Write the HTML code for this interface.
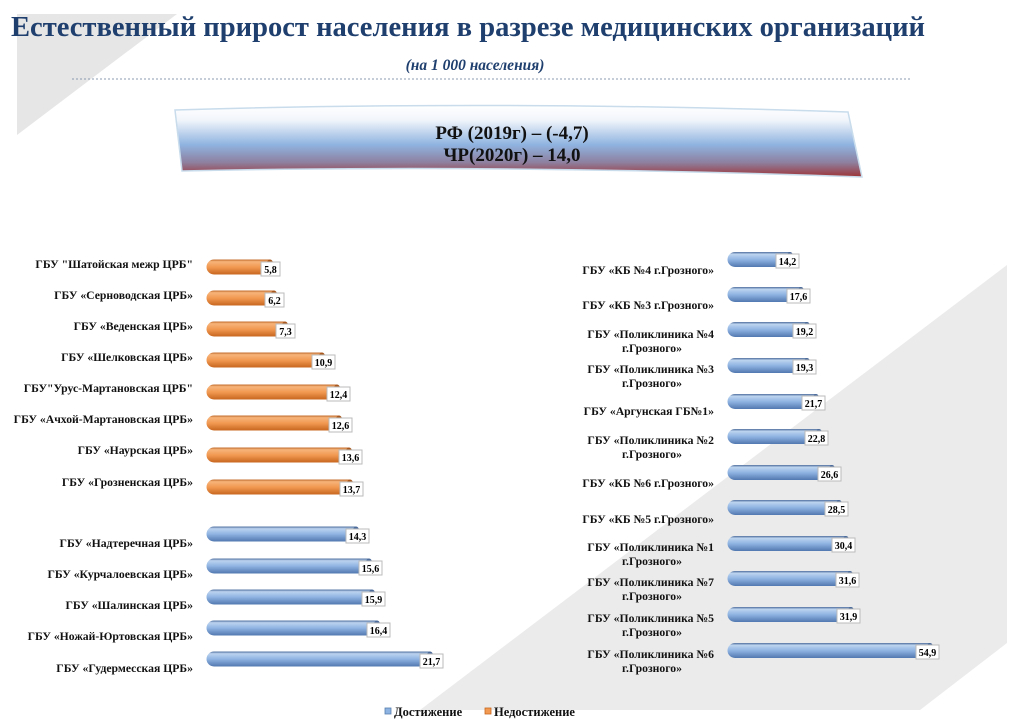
<!DOCTYPE html>
<html><head><meta charset="utf-8"><style>
html,body{margin:0;padding:0;background:#fff;}
svg{display:block;font-family:"Liberation Serif","DejaVu Serif",serif;font-weight:bold;}
</style></head><body>
<svg width="1024" height="724" viewBox="0 0 1024 724" xmlns="http://www.w3.org/2000/svg">
<defs>
<linearGradient id="ban" x1="0" y1="0" x2="0" y2="1">
<stop offset="0" stop-color="#ffffff"/><stop offset="0.2" stop-color="#f2f6fb"/><stop offset="0.55" stop-color="#8fb3e0"/><stop offset="0.8" stop-color="#8e7f9e"/><stop offset="1" stop-color="#9e3436"/></linearGradient>
<linearGradient id="og" x1="0" y1="0" x2="0" y2="1">
<stop offset="0" stop-color="#c06a2a"/><stop offset="0.15" stop-color="#f7b47a"/><stop offset="0.5" stop-color="#f29a52"/><stop offset="1" stop-color="#c8661f"/></linearGradient>
<linearGradient id="bg" x1="0" y1="0" x2="0" y2="1">
<stop offset="0" stop-color="#4d6d9c"/><stop offset="0.15" stop-color="#bcd3ef"/><stop offset="0.5" stop-color="#90b4e2"/><stop offset="1" stop-color="#5178b0"/></linearGradient>
</defs>
<polygon points="17,14 177,14 17,135" fill="#e6e6e6"/>
<polygon points="420,710 1007,265 1007,643 920,710" fill="#ebebeb"/>
<text x="11" y="36" font-size="28.5" fill="#1f3f6e" textLength="914" lengthAdjust="spacingAndGlyphs">Естественный прирост населения в разрезе медицинских организаций</text>
<text x="475" y="70" font-size="15.5" font-style="italic" fill="#1f3f6e" text-anchor="middle">(на 1 000 населения)</text>
<line x1="72" y1="79" x2="910" y2="79" stroke="#8a9bb0" stroke-width="1" stroke-dasharray="2,2"/>
<path d="M175,110 Q500,100 848,112 L862,177 Q500,164 182,171 Z" fill="url(#ban)" stroke="#c8dcec" stroke-width="1.5"/>
<text x="512" y="139" font-size="19" text-anchor="middle" fill="#111">РФ (2019г) – (-4,7)</text>
<text x="512" y="161" font-size="19" text-anchor="middle" fill="#111">ЧР(2020г) – 14,0</text>

<g font-size="11.7" fill="#111" text-anchor="end">
<text x="193" y="268">ГБУ "Шатойская межр ЦРБ"</text>
<text x="193" y="299">ГБУ «Серноводская ЦРБ»</text>
<text x="193" y="330">ГБУ «Веденская ЦРБ»</text>
<text x="193" y="361">ГБУ «Шелковская ЦРБ»</text>
<text x="193" y="392">ГБУ"Урус-Мартановская ЦРБ"</text>
<text x="193" y="423">ГБУ «Ачхой-Мартановская ЦРБ»</text>
<text x="193" y="454">ГБУ «Наурская ЦРБ»</text>
<text x="193" y="486">ГБУ «Грозненская ЦРБ»</text>
<text x="193" y="547">ГБУ «Надтеречная ЦРБ»</text>
<text x="193" y="578">ГБУ «Курчалоевская ЦРБ»</text>
<text x="193" y="609">ГБУ «Шалинская ЦРБ»</text>
<text x="193" y="640">ГБУ «Ножай-Юртовская ЦРБ»</text>
<text x="193" y="672">ГБУ «Гудермесская ЦРБ»</text>
</g>

<g font-size="11.7" fill="#111" text-anchor="end">
<text x="714" y="274">ГБУ «КБ №4 г.Грозного»</text>
<text x="714" y="309">ГБУ «КБ №3 г.Грозного»</text>
<text x="714" y="338">ГБУ «Поликлиника №4</text>
<text x="714" y="373">ГБУ «Поликлиника №3</text>
<text x="714" y="415">ГБУ «Аргунская ГБ№1»</text>
<text x="714" y="444">ГБУ «Поликлиника №2</text>
<text x="714" y="487">ГБУ «КБ №6 г.Грозного»</text>
<text x="714" y="523">ГБУ «КБ №5 г.Грозного»</text>
<text x="714" y="551">ГБУ «Поликлиника №1</text>
<text x="714" y="586">ГБУ «Поликлиника №7</text>
<text x="714" y="622">ГБУ «Поликлиника №5</text>
<text x="714" y="658">ГБУ «Поликлиника №6</text>
</g>
<g font-size="11.7" fill="#111" text-anchor="middle">
<text x="652" y="352">г.Грозного»</text>
<text x="652" y="387">г.Грозного»</text>
<text x="652" y="458">г.Грозного»</text>
<text x="652" y="565">г.Грозного»</text>
<text x="652" y="600">г.Грозного»</text>
<text x="652" y="636">г.Грозного»</text>
<text x="652" y="672">г.Грозного»</text>
</g>

<!-- left orange bars -->
<g>
<path d="M214,259.5 H270 V274.5 H214 A7.5,7.5 0 0 1 214,259.5 Z" fill="url(#og)"/><ellipse cx="270" cy="267" rx="4" ry="7.5" fill="#a8581e"/><rect x="261" y="262" width="19" height="14" fill="#fff" stroke="#bbb"/><text x="270.5" y="273" font-size="10" text-anchor="middle">5,8</text>
<path d="M214,290.5 H274 V305.5 H214 A7.5,7.5 0 0 1 214,290.5 Z" fill="url(#og)"/><ellipse cx="274" cy="298" rx="4" ry="7.5" fill="#a8581e"/><rect x="265" y="293" width="19" height="14" fill="#fff" stroke="#bbb"/><text x="274.5" y="304" font-size="10" text-anchor="middle">6,2</text>
<path d="M214,321.5 H285 V336.5 H214 A7.5,7.5 0 0 1 214,321.5 Z" fill="url(#og)"/><ellipse cx="285" cy="329" rx="4" ry="7.5" fill="#a8581e"/><rect x="276" y="324" width="19" height="14" fill="#fff" stroke="#bbb"/><text x="285.5" y="335" font-size="10" text-anchor="middle">7,3</text>
<path d="M214,352.5 H322 V367.5 H214 A7.5,7.5 0 0 1 214,352.5 Z" fill="url(#og)"/><ellipse cx="322" cy="360" rx="4" ry="7.5" fill="#a8581e"/><rect x="312" y="355" width="23" height="14" fill="#fff" stroke="#bbb"/><text x="323.5" y="366" font-size="10" text-anchor="middle">10,9</text>
<path d="M214,384.5 H337 V399.5 H214 A7.5,7.5 0 0 1 214,384.5 Z" fill="url(#og)"/><ellipse cx="337" cy="392" rx="4" ry="7.5" fill="#a8581e"/><rect x="327" y="387" width="23" height="14" fill="#fff" stroke="#bbb"/><text x="338.5" y="398" font-size="10" text-anchor="middle">12,4</text>
<path d="M214,415.5 H339 V430.5 H214 A7.5,7.5 0 0 1 214,415.5 Z" fill="url(#og)"/><ellipse cx="339" cy="423" rx="4" ry="7.5" fill="#a8581e"/><rect x="329" y="418" width="23" height="14" fill="#fff" stroke="#bbb"/><text x="340.5" y="429" font-size="10" text-anchor="middle">12,6</text>
<path d="M214,447.5 H349 V462.5 H214 A7.5,7.5 0 0 1 214,447.5 Z" fill="url(#og)"/><ellipse cx="349" cy="455" rx="4" ry="7.5" fill="#a8581e"/><rect x="339" y="450" width="23" height="14" fill="#fff" stroke="#bbb"/><text x="350.5" y="461" font-size="10" text-anchor="middle">13,6</text>
<path d="M214,479.5 H350 V494.5 H214 A7.5,7.5 0 0 1 214,479.5 Z" fill="url(#og)"/><ellipse cx="350" cy="487" rx="4" ry="7.5" fill="#a8581e"/><rect x="340" y="482" width="23" height="14" fill="#fff" stroke="#bbb"/><text x="351.5" y="493" font-size="10" text-anchor="middle">13,7</text>
</g>
<!-- left blue bars -->
<g>
<path d="M214,526.5 H356 V541.5 H214 A7.5,7.5 0 0 1 214,526.5 Z" fill="url(#bg)"/><ellipse cx="356" cy="534" rx="4" ry="7.5" fill="#4a6a9a"/><rect x="346" y="529" width="23" height="14" fill="#fff" stroke="#bbb"/><text x="357.5" y="540" font-size="10" text-anchor="middle">14,3</text>
<path d="M214,558.5 H369 V573.5 H214 A7.5,7.5 0 0 1 214,558.5 Z" fill="url(#bg)"/><ellipse cx="369" cy="566" rx="4" ry="7.5" fill="#4a6a9a"/><rect x="359" y="561" width="23" height="14" fill="#fff" stroke="#bbb"/><text x="370.5" y="572" font-size="10" text-anchor="middle">15,6</text>
<path d="M214,589.5 H372 V604.5 H214 A7.5,7.5 0 0 1 214,589.5 Z" fill="url(#bg)"/><ellipse cx="372" cy="597" rx="4" ry="7.5" fill="#4a6a9a"/><rect x="362" y="592" width="23" height="14" fill="#fff" stroke="#bbb"/><text x="373.5" y="603" font-size="10" text-anchor="middle">15,9</text>
<path d="M214,620.5 H377 V635.5 H214 A7.5,7.5 0 0 1 214,620.5 Z" fill="url(#bg)"/><ellipse cx="377" cy="628" rx="4" ry="7.5" fill="#4a6a9a"/><rect x="367" y="623" width="23" height="14" fill="#fff" stroke="#bbb"/><text x="378.5" y="634" font-size="10" text-anchor="middle">16,4</text>
<path d="M214,651.5 H430 V666.5 H214 A7.5,7.5 0 0 1 214,651.5 Z" fill="url(#bg)"/><ellipse cx="430" cy="659" rx="4" ry="7.5" fill="#4a6a9a"/><rect x="420" y="654" width="23" height="14" fill="#fff" stroke="#bbb"/><text x="431.5" y="665" font-size="10" text-anchor="middle">21,7</text>
</g>
<!-- right blue bars -->
<g>
<path d="M735,252 H790 V267 H735 A7.5,7.5 0 0 1 735,252 Z" fill="url(#bg)"/><ellipse cx="790" cy="259.5" rx="4" ry="7.5" fill="#4a6a9a"/><rect x="776" y="254" width="23" height="14" fill="#fff" stroke="#bbb"/><text x="787.5" y="265" font-size="10" text-anchor="middle">14,2</text>
<path d="M735,287 H801 V302 H735 A7.5,7.5 0 0 1 735,287 Z" fill="url(#bg)"/><ellipse cx="801" cy="294.5" rx="4" ry="7.5" fill="#4a6a9a"/><rect x="787" y="289" width="23" height="14" fill="#fff" stroke="#bbb"/><text x="798.5" y="300" font-size="10" text-anchor="middle">17,6</text>
<path d="M735,322 H807 V337 H735 A7.5,7.5 0 0 1 735,322 Z" fill="url(#bg)"/><ellipse cx="807" cy="329.5" rx="4" ry="7.5" fill="#4a6a9a"/><rect x="793" y="324" width="23" height="14" fill="#fff" stroke="#bbb"/><text x="804.5" y="335" font-size="10" text-anchor="middle">19,2</text>
<path d="M735,358 H807 V373 H735 A7.5,7.5 0 0 1 735,358 Z" fill="url(#bg)"/><ellipse cx="807" cy="365.5" rx="4" ry="7.5" fill="#4a6a9a"/><rect x="793" y="360" width="23" height="14" fill="#fff" stroke="#bbb"/><text x="804.5" y="371" font-size="10" text-anchor="middle">19,3</text>
<path d="M735,394 H816 V409 H735 A7.5,7.5 0 0 1 735,394 Z" fill="url(#bg)"/><ellipse cx="816" cy="401.5" rx="4" ry="7.5" fill="#4a6a9a"/><rect x="802" y="396" width="23" height="14" fill="#fff" stroke="#bbb"/><text x="813.5" y="407" font-size="10" text-anchor="middle">21,7</text>
<path d="M735,429 H819 V444 H735 A7.5,7.5 0 0 1 735,429 Z" fill="url(#bg)"/><ellipse cx="819" cy="436.5" rx="4" ry="7.5" fill="#4a6a9a"/><rect x="805" y="431" width="23" height="14" fill="#fff" stroke="#bbb"/><text x="816.5" y="442" font-size="10" text-anchor="middle">22,8</text>
<path d="M735,465 H832 V480 H735 A7.5,7.5 0 0 1 735,465 Z" fill="url(#bg)"/><ellipse cx="832" cy="472.5" rx="4" ry="7.5" fill="#4a6a9a"/><rect x="818" y="467" width="23" height="14" fill="#fff" stroke="#bbb"/><text x="829.5" y="478" font-size="10" text-anchor="middle">26,6</text>
<path d="M735,500 H839 V515 H735 A7.5,7.5 0 0 1 735,500 Z" fill="url(#bg)"/><ellipse cx="839" cy="507.5" rx="4" ry="7.5" fill="#4a6a9a"/><rect x="825" y="502" width="23" height="14" fill="#fff" stroke="#bbb"/><text x="836.5" y="513" font-size="10" text-anchor="middle">28,5</text>
<path d="M735,536 H846 V551 H735 A7.5,7.5 0 0 1 735,536 Z" fill="url(#bg)"/><ellipse cx="846" cy="543.5" rx="4" ry="7.5" fill="#4a6a9a"/><rect x="832" y="538" width="23" height="14" fill="#fff" stroke="#bbb"/><text x="843.5" y="549" font-size="10" text-anchor="middle">30,4</text>
<path d="M735,571 H850 V586 H735 A7.5,7.5 0 0 1 735,571 Z" fill="url(#bg)"/><ellipse cx="850" cy="578.5" rx="4" ry="7.5" fill="#4a6a9a"/><rect x="836" y="573" width="23" height="14" fill="#fff" stroke="#bbb"/><text x="847.5" y="584" font-size="10" text-anchor="middle">31,6</text>
<path d="M735,607 H851 V622 H735 A7.5,7.5 0 0 1 735,607 Z" fill="url(#bg)"/><ellipse cx="851" cy="614.5" rx="4" ry="7.5" fill="#4a6a9a"/><rect x="837" y="609" width="23" height="14" fill="#fff" stroke="#bbb"/><text x="848.5" y="620" font-size="10" text-anchor="middle">31,9</text>
<path d="M735,643 H930 V658 H735 A7.5,7.5 0 0 1 735,643 Z" fill="url(#bg)"/><ellipse cx="930" cy="650.5" rx="4" ry="7.5" fill="#4a6a9a"/><rect x="916" y="645" width="23" height="14" fill="#fff" stroke="#bbb"/><text x="927.5" y="656" font-size="10" text-anchor="middle">54,9</text>
</g>

<!-- legend -->
<rect x="385" y="708" width="6" height="6" fill="#8db3e2" stroke="#5a7fb0" stroke-width="0.8"/>
<text x="394" y="716" font-size="12.5" fill="#111">Достижение</text>
<rect x="485" y="708" width="6" height="6" fill="#f29a52" stroke="#c8661f" stroke-width="0.8"/>
<text x="494" y="716" font-size="12.5" fill="#111">Недостижение</text>
</svg>
</body></html>
